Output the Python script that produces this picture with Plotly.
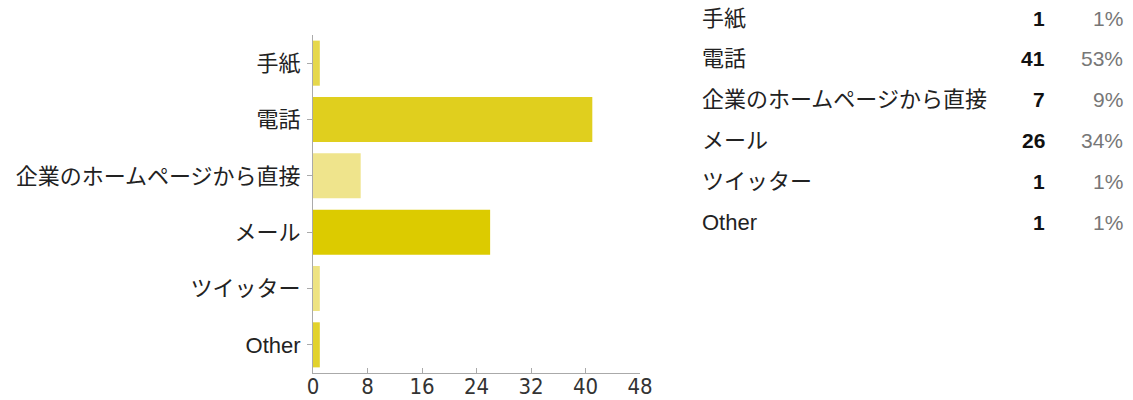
import plotly.graph_objects as go

categories = ["手紙", "電話", "企業のホームページから直接", "メール", "ツイッター", "Other"]
counts = [1, 41, 7, 26, 1, 1]
percents = ["1%", "53%", "9%", "34%", "1%", "1%"]
bar_colors = ["#e6d84c", "#e0cf1e", "#efe48c", "#dccb00", "#eee382", "#e2d22c"]
x_ticks = [0, 8, 16, 24, 32, 40, 48]

W, H = 1133, 400
L, R, T, B = 313, 640, 35, 373

fig = go.Figure(go.Bar(
    y=categories, x=counts, orientation="h",
    marker=dict(color=bar_colors, line=dict(width=0)),
    hoverinfo="skip",
))

font_main = "Liberation Sans, Arial, Noto Sans CJK JP"

fig.update_layout(
    width=W, height=H,
    margin=dict(l=L, r=W - R, t=T, b=H - B, pad=0, autoexpand=False),
    paper_bgcolor="white", plot_bgcolor="white",
    bargap=0.2,
    showlegend=False,
    xaxis=dict(
        range=[0, 48], tickvals=x_ticks, ticktext=[str(v) for v in x_ticks],
        showgrid=False, zeroline=False, automargin=False,
        showline=True, linecolor="#aaaaaa", linewidth=1,
        ticks="inside", ticklen=5, tickcolor="#aaaaaa",
        tickfont=dict(family="DejaVu Sans Condensed, Liberation Sans Narrow, Liberation Sans", size=22, color="#333333"),
        ticklabelstandoff=-6,
        fixedrange=True,
    ),
    yaxis=dict(
        categoryorder="array", categoryarray=categories, autorange="reversed",
        showgrid=False, zeroline=False, automargin=False,
        showline=True, linecolor="#aaaaaa", linewidth=1,
        ticks="outside", ticklen=5, tickcolor="#aaaaaa",
        tickfont=dict(family=font_main, size=22, color="#222222"),
        ticklabelstandoff=2,
        fixedrange=True,
    ),
)

# summary table on the right
row_y0, row_step = 18, 40.8
def px_x(p):
    return (p - L) / (R - L)
def px_y(p):
    return (B - p) / (B - T)

for i, (c, n, pc) in enumerate(zip(categories, counts, percents)):
    yy = px_y(row_y0 + i * row_step)
    fig.add_annotation(x=px_x(700), y=yy, xref="paper", yref="paper", text=c,
                       showarrow=False, xanchor="left", yanchor="middle",
                       font=dict(family=font_main, size=22, color="#222222"))
    fig.add_annotation(x=px_x(1047), y=yy, xref="paper", yref="paper", text=f"<b>{n}</b>",
                       showarrow=False, xanchor="right", yanchor="middle",
                       font=dict(family=font_main, size=21, color="#111111"))
    fig.add_annotation(x=px_x(1125), y=yy, xref="paper", yref="paper", text=pc,
                       showarrow=False, xanchor="right", yanchor="middle",
                       font=dict(family=font_main, size=21, color="#777777"))

fig.write_html("out.html", config={"displayModeBar": False})
